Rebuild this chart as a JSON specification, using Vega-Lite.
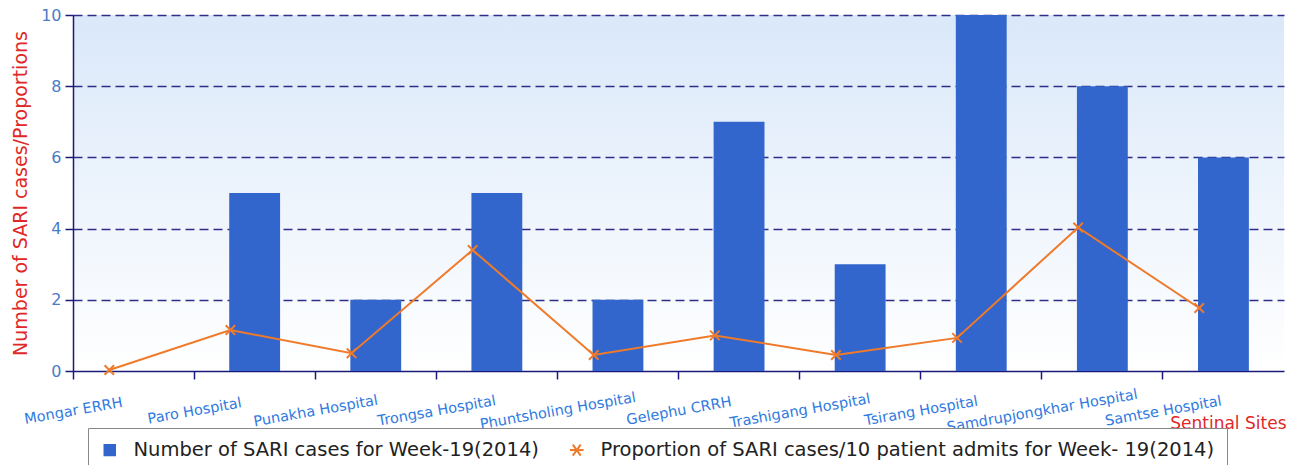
{
  "$schema": "https://vega.github.io/schema/vega-lite/v6.json",
  "width": 1211,
  "height": 356,
  "autosize": "none",
  "padding": {"left": 73, "top": 15, "right": 12, "bottom": 94},
  "background": "white",
  "config": {
    "font": "DejaVu Sans",
    "view": {
      "stroke": null,
      "fill": {"gradient": "linear", "x1": 0, "y1": 0, "x2": 0, "y2": 1,
        "stops": [{"offset": 0, "color": "#dae8f9"}, {"offset": 1, "color": "#ffffff"}]}
    }
  },
  "data": {
    "values": [
      {"site": "Mongar ERRH", "cases": 0, "prop": 0.03},
      {"site": "Paro Hospital", "cases": 5, "prop": 1.15},
      {"site": "Punakha Hospital", "cases": 2, "prop": 0.5},
      {"site": "Trongsa Hospital", "cases": 5, "prop": 3.4},
      {"site": "Phuntsholing Hospital", "cases": 2, "prop": 0.45},
      {"site": "Gelephu CRRH", "cases": 7, "prop": 1.0},
      {"site": "Trashigang Hospital", "cases": 3, "prop": 0.45},
      {"site": "Tsirang Hospital", "cases": 10, "prop": 0.93},
      {"site": "Samdrupjongkhar Hospital", "cases": 8, "prop": 4.03},
      {"site": "Samtse Hospital", "cases": 6, "prop": 1.77}
    ]
  },
  "layer": [
    {
      "mark": {"type": "bar", "width": {"band": 0.42}},
      "encoding": {
        "x": {
          "field": "site", "type": "nominal", "sort": null,
          "scale": {"type": "band", "paddingInner": 0, "paddingOuter": 0},
          "axis": {
            "bandPosition": 0,
            "labelAngle": -10, "labelAlign": "center", "labelBaseline": "middle",
            "labelPadding": 32, "labelOffset": -60, "labelFontSize": 14.5, "labelColor": "#2f7ae0",
            "labelOverlap": false, "labelLimit": 400,
            "tickSize": 8, "tickColor": "#1a1a7a", "tickWidth": 1.5,
            "domainColor": "#1a1a7a", "domainWidth": 1.5,
            "title": "Sentinal Sites", "titleColor": "#e02828", "titleFontSize": 17,
            "titleFontWeight": "normal", "titleAnchor": "end", "titleX": 1213, "titleY": 61,
            "titleAlign": "right", "titleBaseline": "bottom"
          }
        },
        "y": {
          "field": "cases", "type": "quantitative",
          "scale": {"domain": [0, 10], "nice": false},
          "axis": {
            "values": [0, 1, 2, 3, 4, 5, 6, 7, 8, 9, 10],
            "labelExpr": "datum.value % 2 === 0 ? datum.label : ''",
            "tickSize": {"condition": {"test": "datum.value % 2 === 1", "value": 4}, "value": 8},
            "grid": true,
            "gridOpacity": {"condition": {"test": "datum.value % 2 === 1 || datum.value === 0", "value": 0}, "value": 1},
            "gridDash": [9, 5], "gridColor": "#2e2e88", "gridWidth": 1.5,
            "labelFontSize": 16, "labelColor": "#4a7cc6", "labelPadding": 4,
            "domainColor": "#1a1a7a", "domainWidth": 1.5,
            "tickColor": "#1a1a7a", "tickWidth": 1.5,
            "title": "Number of SARI cases/Proportions", "titleColor": "#e02828",
            "titleFontSize": 19, "titleFontWeight": "normal", "titlePadding": 10
          }
        },
        "color": {
          "datum": "Number of SARI cases for Week-19(2014)",
          "scale": {
            "domain": ["Number of SARI cases for Week-19(2014)", "Proportion of SARI cases/10 patient admits for Week- 19(2014)"],
            "range": ["#3366cc", "#ef7a2a"]
          },
          "legend": {
            "orient": "none", "legendX": 15, "legendY": 413,
            "direction": "horizontal", "title": null,
            "padding": 12, "strokeColor": "#888888", "fillColor": "white",
            "labelFontSize": 19.5, "labelColor": "#222222", "labelLimit": 900,
            "symbolSize": 110, "labelOffset": 14, "columnPadding": 26,
            "encode": {
              "symbols": {
                "update": {
                  "shape": {"signal": "datum.value === 'Number of SARI cases for Week-19(2014)' ? 'square' : 'M-1.3,0L1.3,0M-0.75,-1.05L0.75,1.05M-0.75,1.05L0.75,-1.05'"},
                  "fill": {"signal": "datum.value === 'Number of SARI cases for Week-19(2014)' ? '#3366cc' : 'transparent'"},
                  "stroke": {"signal": "datum.value === 'Number of SARI cases for Week-19(2014)' ? 'transparent' : '#ef7a2a'"},
                  "strokeWidth": {"value": 2},
                  "opacity": {"value": 1}
                }
              }
            }
          }
        }
      }
    },
    {
      "mark": {
        "type": "line", "strokeWidth": 2,
        "point": {"shape": "M-1,-1L1,1M-1,1L1,-1", "filled": false, "size": 90, "strokeWidth": 2}
      },
      "encoding": {
        "x": {"field": "site", "type": "nominal", "sort": null, "bandPosition": 0.3,
          "scale": {"type": "band", "paddingInner": 0, "paddingOuter": 0}},
        "y": {"field": "prop", "type": "quantitative", "title": "Number of SARI cases/Proportions"},
        "color": {"datum": "Proportion of SARI cases/10 patient admits for Week- 19(2014)"}
      }
    }
  ]
}
